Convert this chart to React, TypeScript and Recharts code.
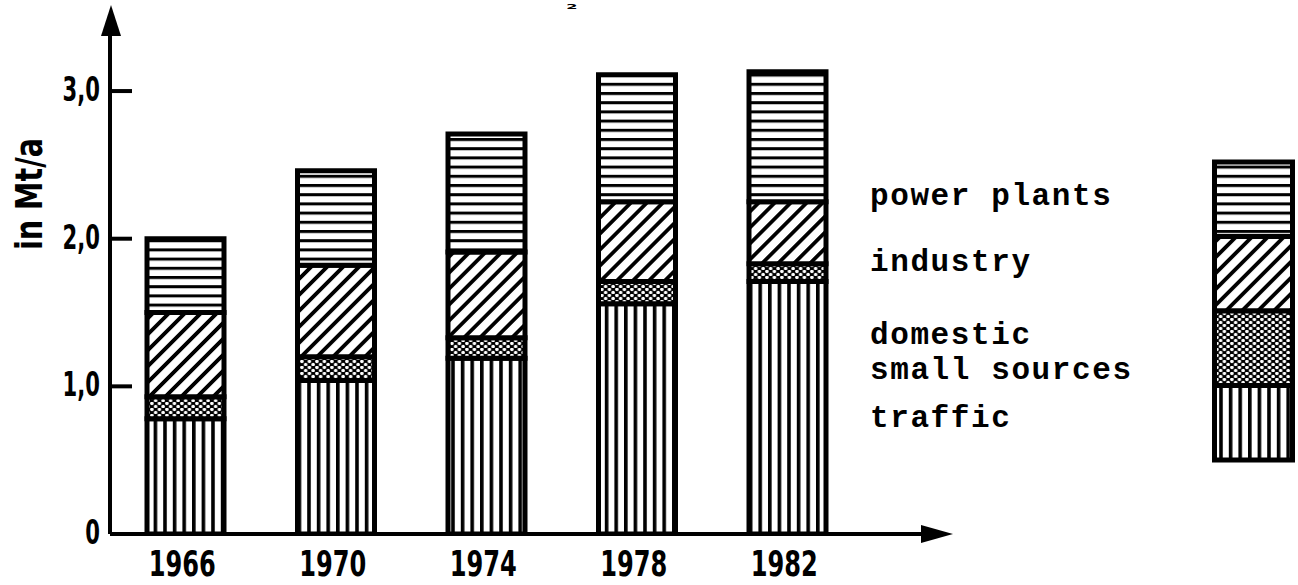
import React from 'react';
import { BarChart, Bar, XAxis, YAxis } from 'recharts';

// ---- data ----
const years = ['1966', '1970', '1974', '1978', '1982'];
const traffic = [0.78, 1.04, 1.19, 1.56, 1.71];
const domestic = [0.15, 0.16, 0.14, 0.15, 0.12];
const industry = [0.57, 0.62, 0.58, 0.54, 0.42];
const powerPlants = [0.5, 0.64, 0.8, 0.86, 0.88];
const yTicks = [0, 1, 2, 3];
const yTickLabels = ['0', '1,0', '2,0', '3,0'];
const yAxisLabel = 'in Mt/a';
const titleFragment = '2';
const seriesBottomUp = ['traffic', 'domestic', 'industry', 'power'];
const legendLabels: Record<string, string[]> = {
  power: ['power plants'],
  industry: ['industry'],
  domestic: ['domestic', 'small sources'],
  traffic: ['traffic'],
};

const data = years.map((year, i) => ({
  year,
  traffic: traffic[i],
  domestic: domestic[i],
  industry: industry[i],
  power: powerPlants[i],
}));

// ---- layout ----
const W = 1298;
const H = 585;
const MARGIN = { top: 32, right: 435.5, bottom: 0, left: 0 };
const Y_AXIS_W = 110;
const X_AXIS_H = 51;
const PLOT_LEFT = MARGIN.left + Y_AXIS_W;
const PLOT_RIGHT = W - MARGIN.right;
const PLOT_BOTTOM = H - MARGIN.bottom - X_AXIS_H;
const INK = '#000';

function Patterns({ p }: { p: string }) {
  return (
    <defs>
      <pattern id={`${p}-traffic`} patternUnits="userSpaceOnUse" width={9.6} height={10}>
        <rect width={9.6} height={10} fill="#fff" />
        <rect x={0} y={0} width={3.6} height={10} fill={INK} />
      </pattern>
      <pattern id={`${p}-domestic`} patternUnits="userSpaceOnUse" width={7.5} height={6}>
        <rect width={7.5} height={6} fill={INK} />
        <circle cx={1.9} cy={1.5} r={1.75} fill="#fff" />
        <circle cx={5.65} cy={4.5} r={1.75} fill="#fff" />
      </pattern>
      <pattern
        id={`${p}-industry`}
        patternUnits="userSpaceOnUse"
        width={11.3}
        height={11.3}
        patternTransform="rotate(45)"
      >
        <rect width={11.3} height={11.3} fill="#fff" />
        <rect x={0} y={0} width={3.8} height={11.3} fill={INK} />
      </pattern>
      <pattern id={`${p}-power`} patternUnits="userSpaceOnUse" width={10} height={9.2}>
        <rect width={10} height={9.2} fill="#fff" />
        <rect x={0} y={0} width={10} height={3} fill={INK} />
      </pattern>
    </defs>
  );
}

const XTick = (props: any) => {
  const { x, y, payload } = props;
  return (
    <g transform={`translate(${x - 3},${y})`}>
      <text
        transform="translate(0,42) scale(0.67,1)"
        textAnchor="middle"
        fontFamily="'DejaVu Sans', sans-serif"
        fontWeight={700}
        fontSize={36}
        fill={INK}
      >
        {payload.value}
      </text>
    </g>
  );
};

const YTick = (props: any) => {
  const { x, y, payload } = props;
  const idx = yTicks.indexOf(payload.value);
  const label = idx >= 0 ? yTickLabels[idx] : String(payload.value);
  return (
    <g>
      {payload.value !== 0 && (
        <line x1={x} x2={x + 22} y1={y} y2={y} stroke={INK} strokeWidth={4} />
      )}
      <text
        transform={`translate(${x - 10},${y + 10}) scale(0.64,1)`}
        textAnchor="end"
        fontFamily="'DejaVu Sans', sans-serif"
        fontWeight={700}
        fontSize={33}
        fill={INK}
      >
        {label}
      </text>
    </g>
  );
};

// legend geometry
const LEG_BOX = { x: 1214.5, y: 162, w: 78, h: 74.5 };
const LEG_TEXT_X = 870;
const LEG_BASELINES: Record<string, number[]> = {
  power: [205],
  industry: [271],
  domestic: [344, 379],
  traffic: [427],
};

function Overlay() {
  const topDown = [...seriesBottomUp].reverse();
  return (
    <svg
      width={W}
      height={H}
      style={{ position: 'absolute', left: 0, top: 0, pointerEvents: 'none' }}
    >
      <Patterns p="lg" />
      {/* remnant of the (cropped) title at the top edge */}
      <text
        transform="translate(572,9) scale(1.8,0.8)"
        textAnchor="middle"
        fontFamily="'DejaVu Sans', sans-serif"
        fontWeight={700}
        fontSize={9}
        fill={INK}
      >
        {titleFragment}
      </text>
      {/* y axis arrow */}
      <polygon points={`${PLOT_LEFT + 1},5 ${PLOT_LEFT - 9},36 ${PLOT_LEFT + 11},36`} fill={INK} />
      {/* x axis extension + arrow */}
      <line x1={PLOT_RIGHT - 2} x2={925} y1={PLOT_BOTTOM} y2={PLOT_BOTTOM} stroke={INK} strokeWidth={4} />
      <polygon points={`921,${PLOT_BOTTOM - 9} 921,${PLOT_BOTTOM + 9} 953,${PLOT_BOTTOM}`} fill={INK} />
      {/* y axis label */}
      <text
        transform="translate(42,194) rotate(-90)"
        textAnchor="middle"
        fontFamily="'DejaVu Sans', sans-serif"
        fontWeight={700}
        fontSize={38}
        textLength={112}
        lengthAdjust="spacingAndGlyphs"
        fill={INK}
      >
        {yAxisLabel}
      </text>
      {/* legend */}
      {topDown.map((key, i) => (
        <rect
          key={key}
          x={LEG_BOX.x}
          y={LEG_BOX.y + i * LEG_BOX.h}
          width={LEG_BOX.w}
          height={LEG_BOX.h}
          fill={`url(#lg-${key})`}
          stroke={INK}
          strokeWidth={5}
        />
      ))}
      {topDown.map((key) =>
        legendLabels[key].map((line, j) => (
          <text
            key={key + j}
            x={LEG_TEXT_X}
            y={LEG_BASELINES[key][j]}
            fontFamily="'Liberation Mono', 'DejaVu Sans Mono', monospace"
            fontWeight={700}
            fontSize={31}
            letterSpacing={1.6}
            fill={INK}
          >
            {line}
          </text>
        ))
      )}
    </svg>
  );
}

export default function App() {
  return (
    <div style={{ position: 'absolute', left: 0, top: 0, width: W, height: H, background: '#fff' }}>
      <BarChart width={W} height={H} data={data} margin={MARGIN} barSize={77}>
        <Patterns p="c" />
        <XAxis
          dataKey="year"
          interval={0}
          height={X_AXIS_H}
          axisLine={{ stroke: INK, strokeWidth: 4 }}
          tickLine={false}
          tickSize={0}
          tickMargin={0}
          tick={<XTick />}
        />
        <YAxis
          type="number"
          domain={[0, 3.4]}
          ticks={yTicks}
          width={Y_AXIS_W}
          axisLine={{ stroke: INK, strokeWidth: 4 }}
          tickLine={false}
          tickSize={0}
          tickMargin={0}
          tick={<YTick />}
          allowDataOverflow
        />
        {seriesBottomUp.map((key) => (
          <Bar
            key={key}
            dataKey={key}
            stackId="s"
            fill={`url(#c-${key})`}
            stroke={INK}
            strokeWidth={5}
            isAnimationActive={false}
          />
        ))}
      </BarChart>
      <Overlay />
    </div>
  );
}
